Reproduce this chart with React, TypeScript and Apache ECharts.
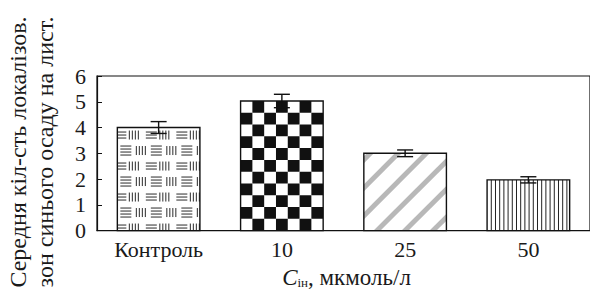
import React, { useEffect, useRef } from 'react';
import * as echarts from 'echarts';

const categories = ['Контроль', '10', '25', '50'];
const means = [4.0, 5.03, 3.0, 1.97];
const errors = [0.23, 0.26, 0.13, 0.12];
const patterns = ['weave', 'checker', 'diagonal', 'vertical'];
const yMin = 0;
const yMax = 6;
const yStep = 1;

const FONT = 'Liberation Serif, serif';
const INK = '#1a1a1a';

function patternEls(kind: string, x0: number, y0: number, w: number, h: number) {
  const els: any[] = [];
  const ln = (x1: number, y1: number, x2: number, y2: number, stroke = '#2a2a2a', lw = 1) =>
    els.push({ type: 'line', shape: { x1, y1, x2, y2 }, style: { stroke, lineWidth: lw } });
  if (kind === 'weave') {
    const rowP = 15.5;
    const colP = 30.5;
    for (let r = 0; r < 20; r++) {
      const cy = y0 + 7.5 + r * rowP;
      if (cy - 6 > y0 + h) break;
      const odd = r % 2 === 1;
      const hOff = odd ? 3 : -2;
      const vOff = odd ? 19 : 12;
      const nH = odd ? 4 : 3;
      for (let k = -1; k < 5; k++) {
        const hx = x0 + hOff + k * colP;
        for (let j = 0; j < nH; j++) {
          const yy = cy - ((nH - 1) * 3) / 2 + j * 3;
          ln(hx, yy, hx + 11, yy);
        }
        const vx = x0 + vOff + k * colP;
        for (let j = 0; j < 4; j++) {
          const xx = vx + j * 3;
          ln(xx, cy - 4.5, xx, cy + 4.5);
        }
      }
    }
  } else if (kind === 'checker') {
    const cols = 7;
    const cw = w / cols;
    const rows = Math.max(1, Math.round(h / cw));
    const ch = h / rows;
    for (let r = 0; r < rows; r++) {
      for (let c = 0; c < cols; c++) {
        if ((r + c) % 2 === 1) {
          els.push({
            type: 'rect',
            shape: { x: x0 + c * cw, y: y0 + r * ch, width: cw, height: ch },
            style: { fill: '#111' },
          });
        }
      }
    }
  } else if (kind === 'diagonal') {
    const P = 28;
    const bw = 7;
    const n = Math.ceil((w + h) / P) + 2;
    for (let k = -1; k < n; k++) {
      const xt = x0 + 3 + k * P;
      els.push({
        type: 'polygon',
        shape: {
          points: [
            [xt, y0],
            [xt + bw, y0],
            [xt + bw - h, y0 + h],
            [xt - h, y0 + h],
          ],
        },
        style: { fill: '#b8b8b8' },
      });
    }
  } else if (kind === 'vertical') {
    const step = 4.2;
    for (let x = x0 + step; x < x0 + w - 1; x += step) {
      ln(x, y0, x, y0 + h, '#222', 1);
    }
  }
  return els;
}

function renderBar(params: any, api: any) {
  const i = params.dataIndex;
  const cx = api.value(0);
  const v = api.value(1);
  const top = api.coord([cx, v]);
  const base = api.coord([cx, 0]);
  const w = api.size([1, 0])[0] * 0.67;
  const x0 = top[0] - w / 2;
  const y0 = top[1];
  const h = base[1] - top[1];
  const shape = { x: x0, y: y0, width: w, height: h };
  return {
    type: 'group',
    children: [
      { type: 'rect', shape, style: { fill: '#fff' } },
      {
        type: 'group',
        clipPath: { type: 'rect', shape },
        children: patternEls(patterns[i], x0, y0, w, h),
      },
      { type: 'rect', shape, style: { fill: 'none', stroke: '#111', lineWidth: 1.4 } },
    ],
  };
}

function renderErr(params: any, api: any) {
  const cx = api.value(0);
  const m = api.value(1);
  const e = api.value(2);
  const hi = api.coord([cx, m + e]);
  const lo = api.coord([cx, m - e]);
  const cw = 8;
  const st = { stroke: '#111', lineWidth: 1.4 };
  return {
    type: 'group',
    children: [
      { type: 'line', shape: { x1: hi[0], y1: hi[1], x2: lo[0], y2: lo[1] }, style: st },
      { type: 'line', shape: { x1: hi[0] - cw, y1: hi[1], x2: hi[0] + cw, y2: hi[1] }, style: st },
      { type: 'line', shape: { x1: lo[0] - cw, y1: lo[1], x2: lo[0] + cw, y2: lo[1] }, style: st },
    ],
  };
}

export default function App() {
  const ref = useRef<HTMLDivElement>(null);
  useEffect(() => {
    if (!ref.current) return;
    const chart = echarts.init(ref.current, null, { renderer: 'svg' });
    const barData = means.map((m, i) => [i, m]);
    const errData = means.map((m, i) => [i, m, errors[i]]);
    chart.setOption({
      animation: false,
      textStyle: { fontFamily: FONT },
      grid: {
        left: 97,
        right: -8,
        top: 76,
        bottom: 59,
        show: true,
        borderColor: '#111',
        borderWidth: 1.2,
        backgroundColor: 'transparent',
      },
      xAxis: {
        type: 'category',
        data: categories,
        boundaryGap: true,
        axisLine: { lineStyle: { color: '#111', width: 1.2 } },
        axisTick: { inside: true, length: 5, lineStyle: { color: '#111', width: 1 } },
        axisLabel: { fontFamily: FONT, fontSize: 22, color: INK, margin: 8 },
        name: '{i|C}{s|ін}{n|, мкмоль/л}',
        nameLocation: 'middle',
        nameGap: 31,
        nameTextStyle: {
          color: INK,
          fontFamily: FONT,
          padding: [0, 0, 0, 6],
          rich: {
            i: { fontFamily: FONT, fontStyle: 'italic', fontSize: 23, lineHeight: 24, color: INK },
            s: { fontFamily: FONT, fontSize: 13, lineHeight: 12, verticalAlign: 'bottom', color: INK },
            n: { fontFamily: FONT, fontSize: 23, lineHeight: 24, color: INK },
          },
        },
      },
      yAxis: {
        type: 'value',
        min: yMin,
        max: yMax,
        interval: yStep,
        axisLine: { show: true, lineStyle: { color: '#111', width: 1.2 } },
        axisTick: { show: true, inside: true, length: 5, lineStyle: { color: '#111', width: 1 } },
        axisLabel: { fontFamily: FONT, fontSize: 22, color: INK, margin: 11 },
        splitLine: { show: false },
      },
      graphic: [
        {
          type: 'text',
          x: 31,
          y: 152,
          rotation: Math.PI / 2,
          style: {
            text: 'Середня кіл-сть локалізов.\nзон синього осаду на лист.',
            fontFamily: FONT,
            fontSize: 24,
            lineHeight: 27,
            fill: INK,
            align: 'center',
            verticalAlign: 'middle',
          },
        },
      ],
      series: [
        {
          type: 'custom',
          renderItem: renderBar,
          data: barData,
          encode: { x: 0, y: 1 },
          z: 2,
        },
        {
          type: 'custom',
          renderItem: renderErr,
          data: errData,
          encode: { x: 0, y: 1 },
          z: 3,
        },
      ],
    });
    return () => chart.dispose();
  }, []);
  return (
    <div
      ref={ref}
      style={{ position: 'fixed', left: 0, top: 0, width: 590, height: 294, background: '#fff' }}
    />
  );
}
